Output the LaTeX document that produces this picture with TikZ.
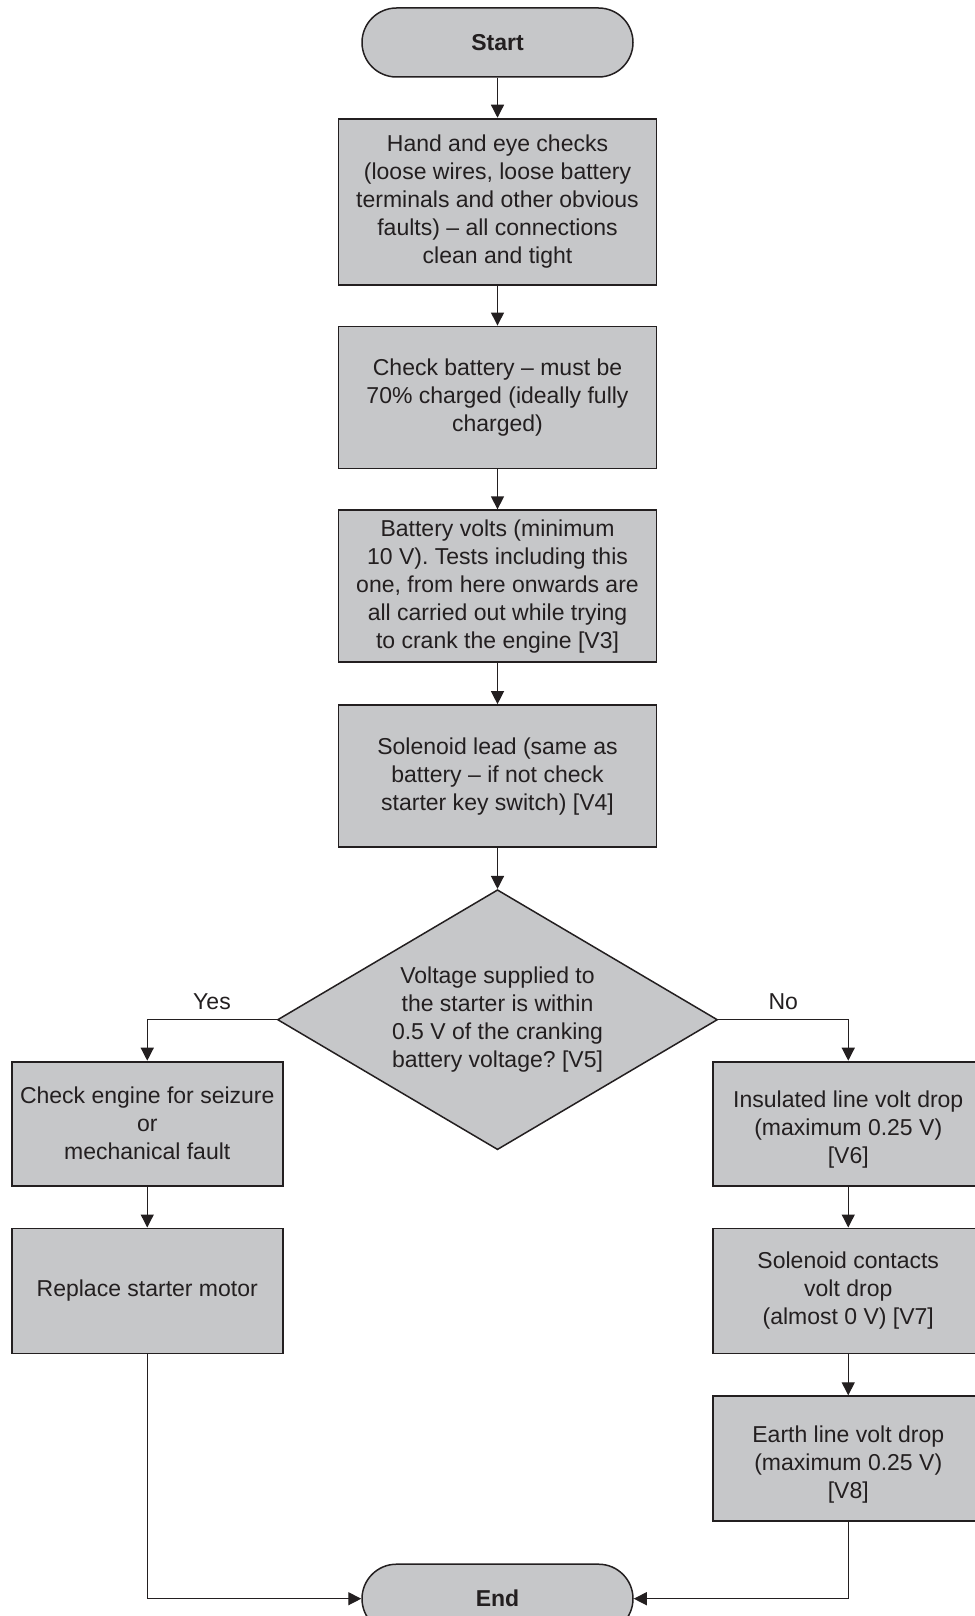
\documentclass[tikz,border=0pt]{standalone}
\usepackage{fontspec}
\setmainfont{Liberation Sans}
\usepackage{xcolor}
\usepackage{tikz}
\usetikzlibrary{shapes.geometric, arrows.meta, positioning}
\frenchspacing

\definecolor{boxgray}{HTML}{C6C7C9}
\definecolor{inkgray}{HTML}{231F20}

\begin{document}
\begin{tikzpicture}[x=1pt, y=1pt, node distance=40pt, >={Triangle[length=13pt,width=13pt]}]
        \tikzstyle{terminal} = [rectangle, rounded corners=34.5pt, minimum width=271pt, minimum height=69pt, text centered, draw=inkgray, line width=1.5pt, fill=boxgray, text=inkgray, font=\fontsize{23}{28}\selectfont\bfseries]
        \tikzstyle{process} = [rectangle, minimum width=318pt, minimum height=142pt, align=center, inner sep=3pt, draw=inkgray, line width=1.8pt, fill=boxgray, text=inkgray, font=\fontsize{23}{28}\selectfont]
        \tikzstyle{sidebox} = [process, minimum width=271pt, minimum height=124pt]
        \tikzstyle{decision} = [diamond, aspect=1.7, minimum width=440pt, minimum height=260pt, align=center, inner sep=0pt, draw=inkgray, line width=1.5pt, fill=boxgray, text=inkgray, font=\fontsize{23}{28}\selectfont]
        \tikzstyle{arrow} = [line width=1.3pt, draw=inkgray, ->]
        \tikzstyle{branch} = [inner sep=0pt, text=inkgray, font=\fontsize{23}{28}\selectfont]

        \useasboundingbox (0,0) rectangle (974,-1616);

        % Start
        \node (start) [terminal] at (497.5,-42.5) {Start};

        % Checks before cranking
        \node (hand) [process, minimum height=166pt, below=40pt of start] {Hand and eye checks\\(loose wires, loose battery\\terminals and other obvious\\faults) – all connections\\clean and tight};
        \node (battery) [process, below=40pt of hand] {Check battery – must be\\70\% charged (ideally fully\\charged)};
        \node (volts) [process, minimum height=152pt, below=40pt of battery] {Battery volts (minimum\\10 V). Tests including this\\one, from here onwards are\\all carried out while trying\\to crank the engine [V3]};
        \node (lead) [process, below=41pt of volts] {Solenoid lead (same as\\battery – if not check\\starter key switch) [V4]};

        % Decision
        \node (supply) [decision, below=41pt of lead] {Voltage supplied to\\the starter is within\\0.5 V of the cranking\\battery voltage? [V5]};

        % Yes path
        \node (seizure) [sidebox, below=41pt of supply.west, xshift=-129.5pt] {Check engine for seizure\\or\\mechanical fault};
        \node (replace) [sidebox, minimum height=125pt, below=41pt of seizure] {Replace starter motor};

        % No path
        \node (insulated) [sidebox, below=41pt of supply.east, xshift=130pt] {\mbox{}\\Insulated line volt drop\\(maximum 0.25 V)\\{[V6]}};
        \node (contacts) [sidebox, minimum height=125pt, below=41pt of insulated] {Solenoid contacts\\volt drop\\(almost 0 V) [V7]};
        \node (earth) [sidebox, minimum height=125pt, below=41pt of contacts] {\mbox{}\\Earth line volt drop\\(maximum 0.25 V)\\{[V8]}};

        % End
        \node (finish) [terminal, below=413pt of supply] {End};

        % Arrows
        \draw [arrow] (start) -- (hand);
        \draw [arrow] (hand) -- (battery);
        \draw [arrow] (battery) -- (volts);
        \draw [arrow] (volts) -- (lead);
        \draw [arrow] (lead) -- (supply);
        \draw [arrow] (supply.west) -| node[branch, pos=0.25, above=9pt] {Yes} (seizure);
        \draw [arrow] (supply.east) -| node[branch, pos=0.25, above=9pt] {No} (insulated);
        \draw [arrow] (seizure) -- (replace);
        \draw [arrow] (insulated) -- (contacts);
        \draw [arrow] (contacts) -- (earth);
        \draw [arrow] (replace) |- (finish);
        \draw [arrow] (earth) |- (finish);
    \end{tikzpicture}
\end{document}
